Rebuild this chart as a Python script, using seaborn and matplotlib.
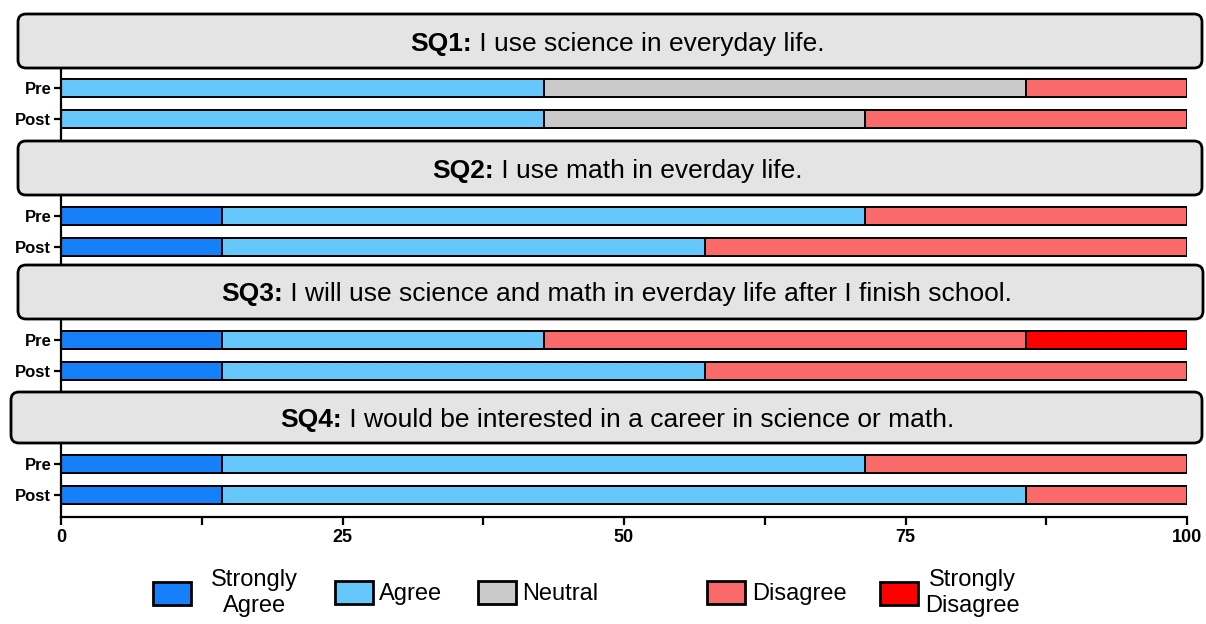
import pandas as pd
import matplotlib.pyplot as plt
import seaborn as sns
from matplotlib.patches import FancyBboxPatch, Patch

# ---------------- DATA ----------------
questions = ["SQ1", "SQ2", "SQ3", "SQ4"]
statements = [
    "I use science in everyday life.",
    "I use math in everday life.",
    "I will use science and math in everday life after I finish school.",
    "I would be interested in a career in science or math.",
]
times = ["Pre", "Post"]
categories = ["Strongly Agree", "Agree", "Neutral", "Disagree", "Strongly Disagree"]
legend_labels = ["Strongly\nAgree", "Agree", "Neutral", "Disagree", "Strongly\nDisagree"]
x_ticks = [0, 25, 50, 75, 100]

# % of responses per question, [Pre, Post]
strongly_agree = [[0, 0], [14.29, 14.29], [14.29, 14.29], [14.29, 14.29]]
agree = [[42.86, 42.86], [57.14, 42.86], [28.57, 42.86], [57.14, 71.43]]
neutral = [[42.86, 28.57], [0, 0], [0, 0], [0, 0]]
disagree = [[14.29, 28.57], [28.57, 42.86], [42.86, 42.86], [28.57, 14.29]]
strongly_disagree = [[0, 0], [0, 0], [14.29, 0], [0, 0]]

colors = ["#1680fa", "#66c8fa", "#c9c9c9", "#fa6a6a", "#fe0000"]

# ---------------- LONG TABLE ----------------
series = [strongly_agree, agree, neutral, disagree, strongly_disagree]
rows = []
for qi, q in enumerate(questions):
    for ti, t in enumerate(times):
        for ci, cat in enumerate(categories):
            rows.append({"question": q, "time": t, "category": cat,
                         "value": series[ci][qi][ti]})
df = pd.DataFrame(rows)
df["cum"] = df.groupby(["question", "time"])["value"].cumsum()

# ---------------- STYLE ----------------
sns.set_style("ticks")
plt.rcParams["font.family"] = ["Liberation Sans", "DejaVu Sans"]
plt.rcParams["text.color"] = "black"
plt.rcParams["xtick.color"] = "black"
plt.rcParams["ytick.color"] = "black"
plt.rcParams["axes.edgecolor"] = "black"

W, H = 1206, 624
fig = plt.figure(figsize=(W / 100, H / 100), dpi=100)

# layout in pixels (from top)
ax_x0, ax_x1 = 61, 1187
ax_spans = [(67, 141), (195, 265), (319, 392), (443, 517)]
boxes = [(18, 14, 1202, 68), (18, 141, 1202, 195), (18, 265, 1203, 319), (11, 392, 1202, 443)]

axes = []
for i, (top, bot) in enumerate(ax_spans):
    ax = fig.add_axes([ax_x0 / W, 1 - bot / H, (ax_x1 - ax_x0) / W, (bot - top) / H])
    sub = df[df["question"] == questions[i]]
    # stacked bars: draw cumulative totals from last category to first
    for ci in range(len(categories) - 1, -1, -1):
        d = sub[sub["category"] == categories[ci]]
        sns.barplot(data=d, x="cum", y="time", order=times, orient="h",
                    color=colors[ci], edgecolor="black", linewidth=1.4,
                    width=0.58, saturation=1, ax=ax)
    ppu = 31.0  # pixels per category step
    ax.set_ylim(1 + (bot - top - 21 - ppu) / ppu, -21 / ppu)
    ax.set_xlim(0, 100)
    ax.set_xlabel("")
    ax.set_ylabel("")
    for s in ["top", "right"]:
        ax.spines[s].set_visible(False)
    ax.spines["left"].set_linewidth(1.6)
    ax.set_yticks([0, 1])
    ax.set_yticklabels(times, fontweight="bold", fontsize=12)
    ax.tick_params(axis="y", length=5, width=1.6, pad=2)
    if i < 3:
        ax.spines["bottom"].set_visible(False)
        ax.tick_params(axis="x", bottom=False, labelbottom=False)
    else:
        ax.spines["bottom"].set_linewidth(1.6)
        ax.set_xticks(x_ticks)
        ax.set_xticklabels([str(v) for v in x_ticks], fontweight="bold", fontsize=13)
        ax.set_xticks([12.5, 37.5, 62.5, 87.5], minor=True)
        ax.tick_params(axis="x", which="both", length=6, width=1.6, pad=3)
    axes.append(ax)

# ---------------- TITLE BOXES ----------------
renderer = fig.canvas.get_renderer()
for i, (x0, y0, x1, y1) in enumerate(boxes):
    box = FancyBboxPatch((x0 / 100, (H - y1) / 100), (x1 - x0) / 100, (y1 - y0) / 100,
                         boxstyle="round,pad=0,rounding_size=0.08",
                         transform=fig.dpi_scale_trans, facecolor="#e4e4e4",
                         edgecolor="black", linewidth=2.0, zorder=5)
    fig.patches.append(box)
    yc = (H - (y0 + y1) / 2) / 100
    t1 = fig.text(0, yc, questions[i] + ":", fontweight="bold", fontsize=19,
                  va="center_baseline", transform=fig.dpi_scale_trans, zorder=6)
    t2 = fig.text(0, yc, " " + statements[i], fontsize=19, va="center_baseline",
                  transform=fig.dpi_scale_trans, zorder=6)
    w1 = t1.get_window_extent(renderer).width / 100
    w2 = t2.get_window_extent(renderer).width / 100
    xs = 6.17 - (w1 + w2) / 2
    t1.set_x(xs)
    t2.set_x(xs + w1)

# ---------------- LEGEND ----------------
leg_x = [153, 335, 478, 707, 880]
pads = [0.85, 0.25, 0.25, 0.3, 0.3]
for ci in range(len(categories)):
    h = Patch(facecolor=colors[ci], edgecolor="black", linewidth=2)
    leg = fig.legend(handles=[h], labels=[legend_labels[ci]], loc="center left",
                     bbox_to_anchor=(leg_x[ci] / W, 1 - 593 / H), frameon=False,
                     fontsize=17, handlelength=1.6, handleheight=1.15,
                     handletextpad=pads[ci], borderpad=0, borderaxespad=0,
                     labelspacing=0)
    for t in leg.get_texts():
        t.set_multialignment("center")

fig.savefig("out.png", dpi=100)
